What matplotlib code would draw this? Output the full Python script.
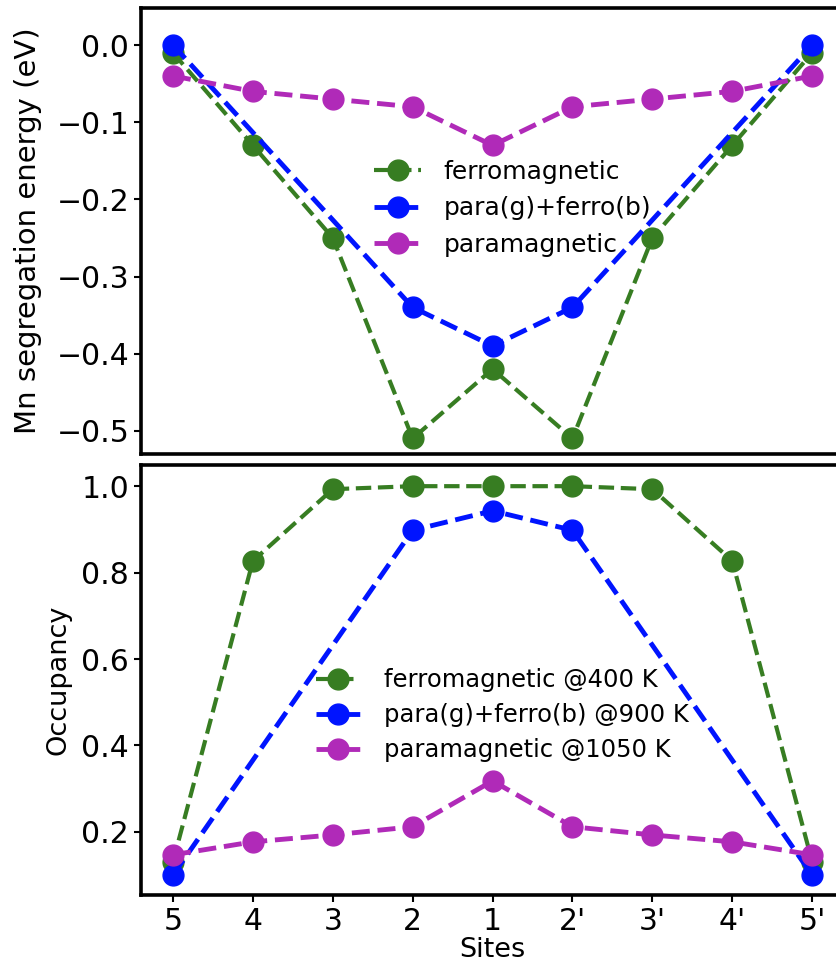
import matplotlib
matplotlib.use("Agg")
import matplotlib.pyplot as plt
import numpy as np

sites = ["5", "4", "3", "2", "1", "2'", "3'", "4'", "5'"]

# Segregation energies (eV)
energy_ferro = [-0.01, -0.13, -0.25, -0.51, -0.42, -0.51, -0.25, -0.13, -0.01]
energy_mixed_sites = ["5", "2", "1", "2'", "5'"]
energy_mixed = [0.0, -0.34, -0.39, -0.34, 0.0]
energy_para = [-0.04, -0.06, -0.07, -0.08, -0.13, -0.08, -0.07, -0.06, -0.04]

# Site occupancies
occ_ferro = [0.131, 0.827, 0.993, 1.0, 1.0, 1.0, 0.993, 0.827, 0.131]
occ_mixed_sites = ["5", "2", "1", "2'", "5'"]
occ_mixed = [0.10, 0.898, 0.943, 0.898, 0.10]
occ_para = [0.147, 0.177, 0.193, 0.212, 0.318, 0.212, 0.193, 0.177, 0.147]

GREEN = "#377d22"
BLUE = "#0014ff"
MAGENTA = "#b02ab8"

fig = plt.figure(figsize=(8.37, 9.72), dpi=100)
ax1 = fig.add_axes([0.1685, 0.533, 0.84, 0.4587])
ax2 = fig.add_axes([0.1685, 0.0792, 0.84, 0.4424])

xpos = {s: i for i, s in enumerate(sites)}
x = np.arange(len(sites))

def xs(labels):
    return [xpos[s] for s in labels]

style = dict(linestyle="--", marker="o", markersize=15)

ax1.plot(x, energy_ferro, color=GREEN, lw=3, label="ferromagnetic", **style)
ax1.plot(xs(energy_mixed_sites), energy_mixed, color=BLUE, lw=3.5,
         label="para(g)+ferro(b)", **style)
ax1.plot(x, energy_para, color=MAGENTA, lw=3.5, label="paramagnetic", **style)

ax2.plot(x, occ_ferro, color=GREEN, lw=3, label="ferromagnetic @400 K", **style)
ax2.plot(xs(occ_mixed_sites), occ_mixed, color=BLUE, lw=3.5,
         label="para(g)+ferro(b) @900 K", **style)
ax2.plot(x, occ_para, color=MAGENTA, lw=3.5,
         label="paramagnetic @1050 K", **style)

ax1.set_ylim(-0.53, 0.048)
ax1.set_yticks([0.0, -0.1, -0.2, -0.3, -0.4, -0.5])
ax2.set_ylim(0.054, 1.049)
ax2.set_yticks([0.2, 0.4, 0.6, 0.8, 1.0])

for ax in (ax1, ax2):
    ax.set_xlim(-0.4, 8.4)
    ax.set_xticks(x)
    for sp in ax.spines.values():
        sp.set_linewidth(2.6)
    ax.tick_params(labelsize=21.5, width=1.5, length=5)

ax1.tick_params(axis="x", labelbottom=False, bottom=False)
ax2.set_xticklabels(sites)

ax1.set_ylabel("Mn segregation energy (eV)", fontsize=21, labelpad=10)
ax2.set_ylabel("Occupancy", fontsize=19.5, labelpad=7)
ax2.set_xlabel("Sites", fontsize=19.5, labelpad=1)

ax1.legend(loc="upper left", bbox_to_anchor=(0.299, 0.71), frameon=False,
           fontsize=18, handlelength=1.9, handletextpad=0.9,
           labelspacing=0.5)
ax2.legend(loc="upper left", bbox_to_anchor=(0.218, 0.578), frameon=False,
           fontsize=17.5, handlelength=1.8, handletextpad=1.0,
           labelspacing=0.45)

fig.savefig("out.png", dpi=100, facecolor="white")
